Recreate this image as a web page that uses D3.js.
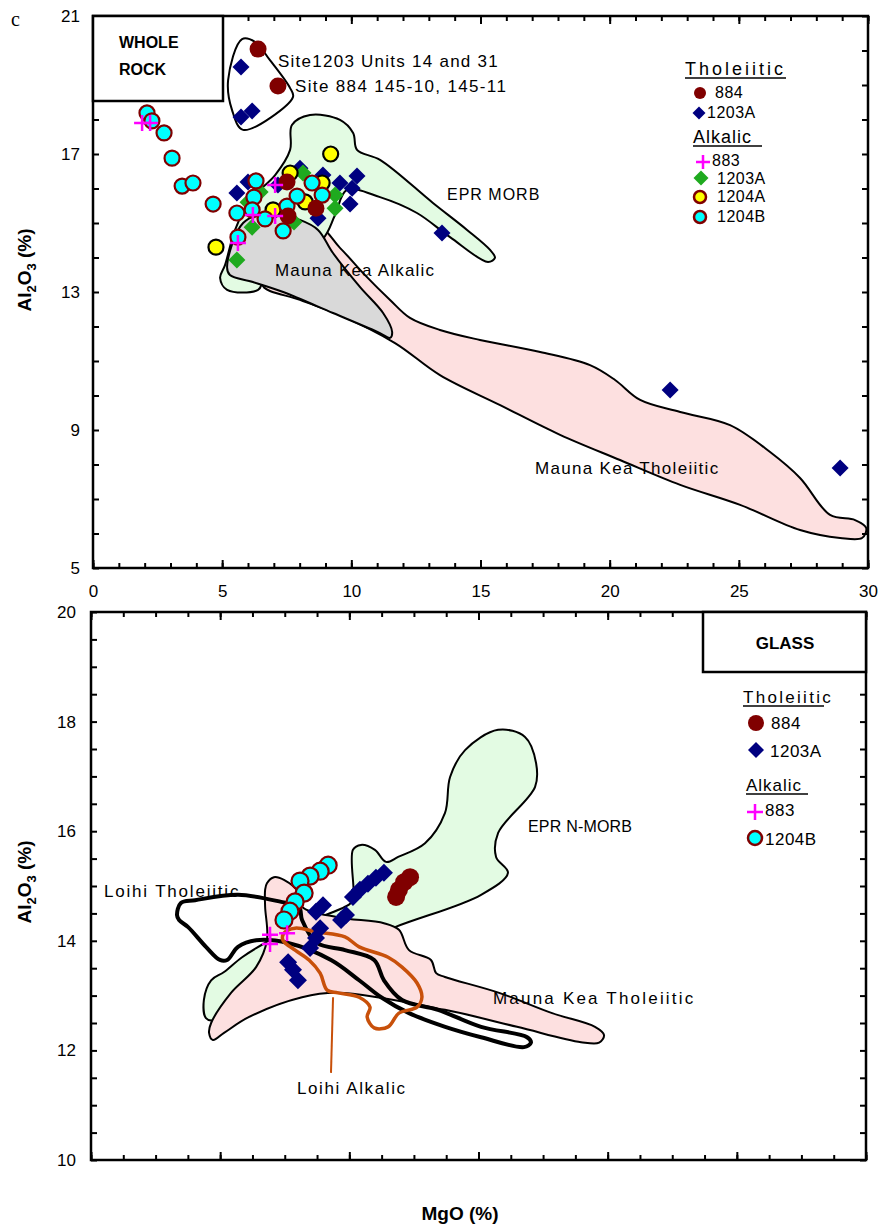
<!DOCTYPE html>
<html>
<head>
<meta charset="utf-8">
<script src="https://cdn.jsdelivr.net/npm/d3@7"></script>
<style>
  body { margin: 0; background: #fff; }
  text { font-family: Arial, "Liberation Sans", sans-serif; fill: #000; }
</style>
</head>
<body>
<div id="chart"></div>
<script>
// ---------- data: [MgO %, Al2O3 %] ----------
const xTickLabels = [0, 5, 10, 15, 20, 25, 30];
const wrYTickLabels = [5, 9, 13, 17, 21];
const glYTickLabels = [10, 12, 14, 16, 18, 20];

// whole rock samples
const wrTh884 = [[6.39, 20.04], [7.16, 18.97], [7.51, 16.19], [7.55, 15.20], [8.63, 15.43]];
const wrTh1203A = [[5.73, 19.52], [5.73, 18.07], [6.16, 18.25], [6.00, 16.19], [5.57, 15.87], [8.01, 16.59],
  [7.16, 16.10], [8.90, 16.39], [9.56, 16.16], [10.22, 16.36], [10.03, 16.01], [9.95, 15.55], [8.71, 15.14],
  [13.51, 14.71], [22.34, 10.16], [28.92, 7.90]];
const wrAlk883 = [[1.90, 17.90], [2.21, 17.90], [5.61, 14.42], [6.19, 15.23], [7.05, 15.20], [7.05, 16.10]];
const wrAlk1203A = [[5.57, 13.93], [6.16, 14.88], [6.47, 15.90], [8.13, 16.45], [9.37, 15.81], [9.37, 15.43],
  [7.78, 15.03], [6.00, 15.60]];
const wrAlk1204A = [[9.20, 17.00], [4.76, 14.30], [7.63, 16.45], [8.21, 15.61], [8.87, 16.16], [6.97, 15.38]];
const wrAlk1204B = [[2.09, 18.19], [2.28, 17.96], [2.75, 17.61], [3.06, 16.88], [3.45, 16.07], [3.87, 16.16],
  [4.65, 15.55], [5.57, 15.29], [6.31, 16.22], [6.23, 15.75], [6.16, 15.38], [6.66, 15.12], [5.61, 14.59],
  [7.36, 14.77], [7.51, 15.49], [7.90, 15.78], [8.48, 16.16], [8.87, 15.81]];

// whole rock fields
const wrSite1203 = [[5.77, 20.33], [5.23, 19.14], [5.38, 18.28], [5.81, 17.70], [7.74, 18.65], [7.63, 18.91],
  [6.85, 19.72], [6.27, 20.25]];
const wrEprMorb = [[7.70, 17.84], [8.40, 18.13], [9.56, 17.99], [10.07, 17.61], [10.22, 17.12], [11.11, 16.83],
  [13.16, 15.58], [14.48, 14.80], [15.37, 14.22], [15.56, 13.99], [15.29, 13.87], [13.82, 14.59], [12.54, 15.29],
  [11.11, 15.75], [9.83, 15.96], [9.37, 15.23], [8.87, 14.51], [6.66, 13.41], [6.39, 13.06], [5.19, 13.06],
  [4.92, 13.41], [5.11, 13.78], [5.50, 14.80], [6.08, 15.67], [7.05, 16.39], [7.63, 17.12]];
const wrMkAlkalic = [[5.81, 15.00], [5.19, 13.72], [5.30, 13.49], [6.19, 13.29], [7.36, 13.00], [9.29, 12.39],
  [11.11, 11.81], [11.50, 11.67], [11.58, 11.84], [11.23, 12.39], [10.34, 13.14], [9.29, 14.13], [8.71, 14.80],
  [8.01, 15.09], [6.85, 15.29]];
const wrMkTholeiitic = [[8.71, 14.86], [9.56, 14.28], [10.53, 13.49], [11.50, 12.77], [12.27, 12.25], [13.43, 11.90],
  [14.98, 11.61], [17.31, 11.26], [19.24, 10.88], [20.21, 10.45], [21.18, 9.87], [22.73, 9.52], [24.66, 9.14],
  [26.21, 8.36], [27.37, 7.61], [28.53, 6.54], [29.50, 6.39], [29.93, 6.16], [29.77, 5.87], [28.92, 5.87],
  [27.37, 6.10], [25.05, 6.83], [22.73, 7.41], [20.40, 8.13], [18.08, 8.86], [15.76, 9.72], [13.43, 10.59],
  [11.69, 11.52], [9.56, 12.33], [8.01, 12.77], [6.54, 13.23]];

// glass samples
const glTh884 = [[12.35, 15.16], [12.12, 15.07], [11.92, 14.93], [11.81, 14.80]];
const glTh1203A = [[7.63, 13.61], [7.82, 13.47], [8.01, 13.28], [8.48, 13.87], [8.71, 14.05], [8.87, 14.23],
  [8.71, 14.53], [8.98, 14.65], [9.68, 14.38], [9.87, 14.47], [10.14, 14.80], [10.41, 14.93], [10.72, 15.04],
  [11.03, 15.15], [11.34, 15.24]];
const glAlk883 = [[6.93, 14.11], [6.93, 13.94], [7.59, 14.14]];
const glAlk1204B = [[9.18, 15.38], [8.87, 15.27], [8.48, 15.18], [8.09, 15.09], [8.25, 14.87], [7.90, 14.71],
  [7.70, 14.54], [7.47, 14.38]];

// glass fields
const glEprNMorb = [[10.14, 14.74], [10.14, 15.66], [10.45, 15.75], [10.99, 15.66], [11.42, 15.44], [11.89, 15.53],
  [12.93, 15.78], [13.70, 16.33], [13.90, 16.99], [14.48, 17.48], [15.76, 17.85], [16.80, 17.72], [17.23, 17.24],
  [17.19, 16.81], [15.76, 15.97], [15.68, 15.53], [16.14, 15.24], [15.10, 14.84], [11.77, 14.25], [9.18, 13.74],
  [6.47, 13.10], [4.72, 12.55], [4.45, 12.59], [4.37, 12.92], [4.65, 13.28], [5.15, 13.43], [5.85, 13.70],
  [6.93, 14.01], [8.40, 14.34], [9.95, 14.65]];
const glMkTholeiitic = [[6.81, 15.05], [7.08, 15.16], [7.47, 15.11], [8.05, 14.87], [8.17, 14.62], [9.56, 14.43],
  [11.34, 14.32], [11.92, 14.20], [12.31, 13.83], [13.16, 13.65], [13.36, 13.41], [13.70, 13.34], [15.80, 13.05],
  [17.85, 12.68], [19.51, 12.43], [19.86, 12.28], [19.67, 12.14], [18.97, 12.15], [16.49, 12.43], [13.70, 12.74],
  [9.56, 13.05], [8.17, 12.97], [6.12, 12.61], [5.15, 12.32], [4.72, 12.19], [4.57, 12.32], [4.65, 12.50],
  [5.42, 13.05], [6.39, 13.52], [6.81, 14.01], [6.74, 14.62], [6.74, 14.93]];
const glLoihiTholeiitic = [[3.33, 14.47], [3.48, 14.69], [4.03, 14.74], [5.69, 14.84], [7.36, 14.71], [8.05, 14.62],
  [8.17, 14.38], [8.75, 13.96], [9.83, 13.83], [10.96, 13.65], [11.34, 13.28], [12.04, 12.92], [13.43, 12.74],
  [15.10, 12.43], [16.88, 12.24], [17.03, 12.14], [16.76, 12.06], [15.10, 12.24], [13.71, 12.43], [12.31, 12.68],
  [11.23, 12.97], [10.38, 13.28], [9.29, 13.65], [7.63, 13.96], [6.39, 14.01], [5.69, 13.89], [5.27, 13.65],
  [4.99, 13.65], [4.45, 13.89], [3.76, 14.25], [3.41, 14.38]];
const glLoihiAlkalic = [[7.47, 14.14], [7.90, 14.23], [8.75, 14.16], [9.83, 14.07], [10.38, 13.89], [11.50, 13.70],
  [12.04, 13.52], [12.62, 13.23], [12.81, 12.97], [12.62, 12.79], [11.92, 12.68], [11.50, 12.43], [10.96, 12.41],
  [10.69, 12.61], [10.80, 12.79], [10.38, 12.97], [9.56, 13.05], [9.14, 13.10], [8.87, 13.41], [8.44, 13.65],
  [7.90, 13.83], [7.43, 14.01]];
const glLoihiAlkalicLeader = [[9.37, 12.97], [9.29, 11.59]];

// ---------- colours ----------
const cDarkRed = "#800000";
const cNavy = "#000080";
const cGreen = "#1faa1f";
const cMagenta = "#ff00ff";
const cCyan = "#00ffff";
const cYellow = "#ffff00";
const fillGreen = "#e3fbe3";
const fillPink = "#fde0e0";
const fillGray = "#d9d9d9";
const cOrange = "#c8500a";

const width = 880;
const height = 1225;

const svg = d3
  .select("#chart")
  .append("svg")
  .attr("width", width)
  .attr("height", height);

// scales
const xWR = d3.scaleLinear().domain([0, 30]).range([93, 868]);
const yWR = d3.scaleLinear().domain([5, 21]).range([568, 16]);
const xGL = d3.scaleLinear().domain([0, 30]).range([91, 866]);
const yGL = d3.scaleLinear().domain([10, 20]).range([1160, 612]);

const closedCurve = d3.curveCatmullRomClosed.alpha(0.5);

function field(g, pts, x, y, fill, stroke, sw, closed = true) {
  const line = d3
    .line()
    .x((d) => x(d[0]))
    .y((d) => y(d[1]))
    .curve(closed ? closedCurve : d3.curveLinear);
  g.append("path")
    .attr("d", line(pts))
    .attr("fill", fill)
    .attr("stroke", stroke)
    .attr("stroke-width", sw)
    .attr("stroke-linejoin", "round");
}

// one marker at pixel position
function marker(g, type, cx, cy, s) {
  if (type === "circle") {
    g.append("circle")
      .attr("cx", cx)
      .attr("cy", cy)
      .attr("r", s.size)
      .attr("fill", s.fill)
      .attr("stroke", s.stroke || "none")
      .attr("stroke-width", s.sw || 0);
  } else if (type === "diamond") {
    const a = s.size;
    g.append("path")
      .attr("d", `M${cx},${cy - a}L${cx + a},${cy}L${cx},${cy + a}L${cx - a},${cy}Z`)
      .attr("fill", s.fill);
  } else {
    const a = s.size;
    g.append("path")
      .attr("d", `M${cx - a},${cy}H${cx + a}M${cx},${cy - a}V${cy + a}`)
      .attr("stroke", s.fill)
      .attr("stroke-width", s.sw)
      .attr("fill", "none");
  }
}

function series(g, data, type, s, x, y) {
  data.forEach((d) => marker(g, type, x(d[0]), y(d[1]), s));
}

function label(g, txt, x, y, size, spacing) {
  g.append("text")
    .attr("x", x)
    .attr("y", y)
    .style("font-size", size + "px")
    .style("letter-spacing", spacing + "px")
    .text(txt);
}

function frameAxes(g, x, y, xMinor, xMajor, yMinor) {
  const [x0, x1] = x.range();
  const [y0, y1] = y.range();
  const clean = (a) => a.call((s) => s.select(".domain").remove())
    .call((s) => s.selectAll("line").attr("stroke-width", 2));
  g.append("g").attr("transform", `translate(0,${y0})`)
    .call(d3.axisBottom(x).tickValues(xMinor).tickSize(-5).tickFormat("")).call(clean);
  g.append("g").attr("transform", `translate(0,${y0})`)
    .call(d3.axisBottom(x).tickValues(xMajor).tickSize(-8).tickFormat("")).call(clean);
  g.append("g").attr("transform", `translate(0,${y1})`)
    .call(d3.axisTop(x).tickValues(xMinor).tickSize(-5).tickFormat("")).call(clean);
  g.append("g").attr("transform", `translate(0,${y1})`)
    .call(d3.axisTop(x).tickValues(xMajor).tickSize(-8).tickFormat("")).call(clean);
  g.append("g").attr("transform", `translate(${x0},0)`)
    .call(d3.axisLeft(y).tickValues(yMinor).tickSize(-6).tickFormat("")).call(clean);
  g.append("g").attr("transform", `translate(${x1},0)`)
    .call(d3.axisRight(y).tickValues(yMinor).tickSize(-6).tickFormat("")).call(clean);
  g.append("rect")
    .attr("x", x0)
    .attr("y", y1)
    .attr("width", x1 - x0)
    .attr("height", y0 - y1)
    .attr("fill", "none")
    .attr("stroke", "#000")
    .attr("stroke-width", 2.5);
}

function yTitle(cx, cy) {
  const t = svg.append("text")
    .attr("transform", `translate(${cx},${cy}) rotate(-90)`)
    .attr("text-anchor", "middle")
    .style("font-size", "19px")
    .style("font-weight", "bold");
  t.append("tspan").text("Al");
  t.append("tspan").style("font-size", "13px").attr("dy", 5).text("2");
  t.append("tspan").attr("dy", -5).text("O");
  t.append("tspan").style("font-size", "13px").attr("dy", 5).text("3");
  t.append("tspan").attr("dy", -5).text(" (%)");
}

// =============== WHOLE ROCK panel ===============
const gTop = svg.append("g");
field(gTop, wrMkTholeiitic, xWR, yWR, fillPink, "#000", 2);
field(gTop, wrEprMorb, xWR, yWR, fillGreen, "#000", 2);
field(gTop, wrMkAlkalic, xWR, yWR, fillGray, "#000", 2);
field(gTop, wrSite1203, xWR, yWR, "none", "#000", 2);

label(gTop, "EPR MORB", 447, 200, 16, 1);
label(gTop, "Mauna Kea Alkalic", 275, 276, 17, 1.2);
label(gTop, "Mauna Kea Tholeiitic", 535, 474, 17, 1.3);
label(gTop, "Site1203 Units 14 and 31", 278, 67, 17, 1.25);
label(gTop, "Site 884 145-10, 145-11", 295, 92, 17, 1.35);

series(gTop, wrTh1203A, "diamond", { fill: cNavy, size: 8.5 }, xWR, yWR);
series(gTop, wrAlk1203A, "diamond", { fill: cGreen, size: 8.5 }, xWR, yWR);
series(gTop, wrAlk1204A, "circle", { fill: cYellow, stroke: "#000", sw: 2.2, size: 7.5 }, xWR, yWR);
series(gTop, wrAlk1204B, "circle", { fill: cCyan, stroke: cDarkRed, sw: 2.2, size: 7.5 }, xWR, yWR);
series(gTop, wrTh884, "circle", { fill: cDarkRed, size: 8.5 }, xWR, yWR);
series(gTop, wrAlk883, "cross", { fill: cMagenta, sw: 2.5, size: 8 }, xWR, yWR);

frameAxes(gTop, xWR, yWR, d3.range(0, 31, 1), xTickLabels, d3.range(5, 22, 1));

gTop.append("g")
  .attr("transform", "translate(0,568)")
  .call(d3.axisBottom(xWR).tickValues(xTickLabels).tickSize(0).tickPadding(17))
  .call((s) => s.select(".domain").remove())
  .call((s) => s.selectAll("text").style("font-size", "17px"));
gTop.append("g")
  .attr("transform", "translate(93,0)")
  .call(d3.axisLeft(yWR).tickValues(wrYTickLabels).tickSize(0).tickPadding(13))
  .call((s) => s.select(".domain").remove())
  .call((s) => s.selectAll("text").style("font-size", "17px"));

// WHOLE ROCK box
gTop.append("rect").attr("x", 93).attr("y", 16).attr("width", 130).attr("height", 85)
  .attr("fill", "#fff").attr("stroke", "#000").attr("stroke-width", 2.5);
gTop.append("text").attr("x", 119).attr("y", 48).style("font-size", "16px").style("font-weight", "bold").text("WHOLE");
gTop.append("text").attr("x", 119).attr("y", 75).style("font-size", "16px").style("font-weight", "bold").text("ROCK");

svg.append("text").attr("x", 11).attr("y", 26)
  .style("font-family", "'Liberation Serif', 'DejaVu Serif', serif")
  .style("font-size", "20px").text("c");

// legend (whole rock)
label(gTop, "Tholeiitic", 685, 75, 18, 3);
gTop.append("line").attr("x1", 685).attr("x2", 786).attr("y1", 78).attr("y2", 78).attr("stroke", "#000").attr("stroke-width", 1.5);
marker(gTop, "circle", 700, 93, { fill: cDarkRed, size: 6 });
label(gTop, "884", 715, 98, 16, 0.5);
marker(gTop, "diamond", 699, 113, { fill: cNavy, size: 6.5 });
label(gTop, "1203A", 707, 118, 16, 0.5);
label(gTop, "Alkalic", 693, 143, 18, 1);
gTop.append("line").attr("x1", 693).attr("x2", 762).attr("y1", 146).attr("y2", 146).attr("stroke", "#000").attr("stroke-width", 1.5);
marker(gTop, "cross", 703, 162, { fill: cMagenta, sw: 2.5, size: 7 });
label(gTop, "883", 712, 166, 16, 0.5);
marker(gTop, "diamond", 701, 178, { fill: cGreen, size: 7.5 });
label(gTop, "1203A", 717, 184, 16, 0.5);
marker(gTop, "circle", 700, 197, { fill: cYellow, stroke: cDarkRed, sw: 2.5, size: 6 });
label(gTop, "1204A", 717, 202, 16, 0.5);
marker(gTop, "circle", 700, 217, { fill: cCyan, stroke: cDarkRed, sw: 2.5, size: 6 });
label(gTop, "1204B", 717, 222, 16, 0.5);

yTitle(31, 270);

// =============== GLASS panel ===============
const gBot = svg.append("g");
field(gBot, glEprNMorb, xGL, yGL, fillGreen, "#000", 2);
field(gBot, glMkTholeiitic, xGL, yGL, fillPink, "#000", 2);
field(gBot, glLoihiTholeiitic, xGL, yGL, "none", "#000", 4);
field(gBot, glLoihiAlkalic, xGL, yGL, "none", cOrange, 3.5);
field(gBot, glLoihiAlkalicLeader, xGL, yGL, "none", cOrange, 2, false);

label(gBot, "EPR N-MORB", 528, 832, 16, 0.2);
label(gBot, "Loihi Tholeiitic", 104, 897, 17, 1.8);
label(gBot, "Mauna Kea Tholeiitic", 493, 1004, 17, 2.2);
label(gBot, "Loihi Alkalic", 297, 1094, 17, 1.6);

series(gBot, glTh1203A, "diamond", { fill: cNavy, size: 9 }, xGL, yGL);
series(gBot, glTh884, "circle", { fill: cDarkRed, size: 9 }, xGL, yGL);
series(gBot, glAlk1204B, "circle", { fill: cCyan, stroke: cDarkRed, sw: 2.2, size: 8.5 }, xGL, yGL);
series(gBot, glAlk883, "cross", { fill: cMagenta, sw: 2.5, size: 8 }, xGL, yGL);

frameAxes(gBot, xGL, yGL, d3.range(0, 30.1, 1.25), xTickLabels, d3.range(10, 20.1, 0.5));

gBot.append("g")
  .attr("transform", "translate(91,0)")
  .call(d3.axisLeft(yGL).tickValues(glYTickLabels).tickSize(0).tickPadding(15))
  .call((s) => s.select(".domain").remove())
  .call((s) => s.selectAll("text").style("font-size", "17px"));

// GLASS box
gBot.append("rect").attr("x", 703).attr("y", 612).attr("width", 163).attr("height", 60)
  .attr("fill", "#fff").attr("stroke", "#000").attr("stroke-width", 2.5);
gBot.append("text").attr("x", 785).attr("y", 649).attr("text-anchor", "middle")
  .style("font-size", "17px").style("font-weight", "bold").text("GLASS");

// legend (glass)
label(gBot, "Tholeiitic", 743, 703, 17, 2.3);
gBot.append("line").attr("x1", 743).attr("x2", 824).attr("y1", 706).attr("y2", 706).attr("stroke", "#000").attr("stroke-width", 1.5);
marker(gBot, "circle", 756, 723, { fill: cDarkRed, size: 8 });
label(gBot, "884", 771, 729, 17, 0.5);
marker(gBot, "diamond", 756, 750, { fill: cNavy, size: 8 });
label(gBot, "1203A", 770, 757, 17, 0.5);
label(gBot, "Alkalic", 746, 791, 17, 1);
gBot.append("line").attr("x1", 746).attr("x2", 808).attr("y1", 794).attr("y2", 794).attr("stroke", "#000").attr("stroke-width", 1.5);
marker(gBot, "cross", 755, 812, { fill: cMagenta, sw: 2.5, size: 8 });
label(gBot, "883", 765, 816, 17, 0.5);
marker(gBot, "circle", 755, 838, { fill: cCyan, stroke: cDarkRed, sw: 2.5, size: 7 });
label(gBot, "1204B", 765, 845, 17, 0.5);

yTitle(31, 882);

svg.append("text")
  .attr("x", 460)
  .attr("y", 1220)
  .attr("text-anchor", "middle")
  .style("font-size", "19px")
  .style("font-weight", "bold")
  .text("MgO (%)");
</script>
</body>
</html>
